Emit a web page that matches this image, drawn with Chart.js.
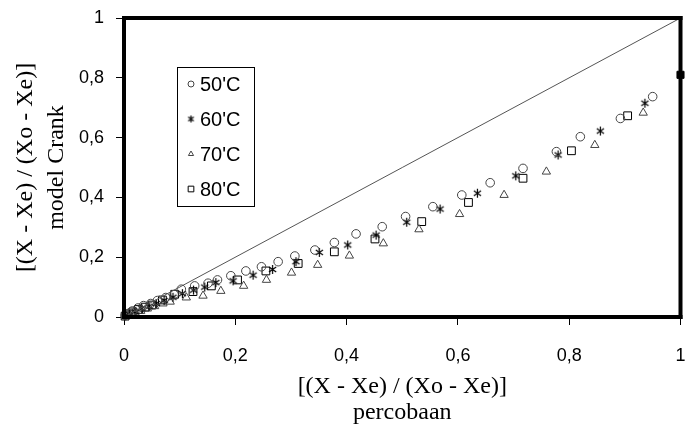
<!DOCTYPE html>
<html>
<head>
<meta charset="utf-8">
<script src="https://cdn.jsdelivr.net/npm/chart.js@4"></script>
<style>
  html, body { margin: 0; padding: 0; background: #fff; }
  #chart { display: block; }
</style>
</head>
<body>
<canvas id="chart" width="687" height="437"></canvas>
<script>
// data: x = percobaan, y = model Crank
const x50 = [0.002, 0.008, 0.015, 0.025, 0.035, 0.048, 0.06, 0.075, 0.09, 0.103, 0.127, 0.151, 0.168, 0.192, 0.219, 0.247, 0.277, 0.307, 0.343, 0.378, 0.417, 0.464, 0.506, 0.555, 0.607, 0.658, 0.717, 0.777, 0.820, 0.892, 0.950];
const y50 = [0.005, 0.012, 0.02, 0.03, 0.038, 0.045, 0.055, 0.065, 0.075, 0.093, 0.104, 0.113, 0.124, 0.138, 0.154, 0.168, 0.185, 0.204, 0.224, 0.249, 0.278, 0.302, 0.336, 0.369, 0.408, 0.449, 0.497, 0.553, 0.603, 0.664, 0.737];

const x60 = [0.003, 0.01, 0.02, 0.032, 0.045, 0.058, 0.072, 0.088, 0.105, 0.125, 0.145, 0.165, 0.196, 0.232, 0.267, 0.309, 0.351, 0.402, 0.453, 0.508, 0.568, 0.635, 0.704, 0.780, 0.856, 0.936];
const y60 = [0.004, 0.01, 0.018, 0.028, 0.036, 0.045, 0.055, 0.066, 0.078, 0.09, 0.1, 0.115, 0.121, 0.140, 0.159, 0.185, 0.216, 0.241, 0.274, 0.317, 0.361, 0.414, 0.472, 0.542, 0.622, 0.715];

const x70 = [0.003, 0.01, 0.02, 0.03, 0.042, 0.055, 0.07, 0.083, 0.112, 0.142, 0.174, 0.215, 0.256, 0.301, 0.348, 0.405, 0.466, 0.530, 0.603, 0.683, 0.759, 0.846, 0.933];
const y70 = [0.003, 0.008, 0.014, 0.02, 0.028, 0.036, 0.045, 0.051, 0.065, 0.071, 0.087, 0.104, 0.124, 0.148, 0.174, 0.205, 0.246, 0.293, 0.344, 0.408, 0.486, 0.575, 0.683];

const x80 = [0.002, 0.008, 0.016, 0.026, 0.038, 0.05, 0.069, 0.091, 0.124, 0.157, 0.204, 0.255, 0.313, 0.378, 0.451, 0.535, 0.619, 0.717, 0.804, 0.905];
const y80 = [0.003, 0.01, 0.017, 0.025, 0.033, 0.04, 0.057, 0.076, 0.085, 0.104, 0.124, 0.154, 0.179, 0.218, 0.261, 0.319, 0.383, 0.464, 0.556, 0.673];

// small filled mark sitting on the right frame
const edgeX = [1.0];
const edgeY = [0.81];

const lineX = [0, 1];
const lineY = [0, 1];

const seriesLabels = ["50'C", "60'C", "70'C", "80'C"];
const tickValues = [0, 0.2, 0.4, 0.6, 0.8, 1];

function pts(xs, ys) {
    return xs.map((x, i) => ({ x: x, y: ys[i] }));
}

// asterisk marker (vertical bar + two diagonals)
function makeStar(size) {
    const c = document.createElement('canvas');
    c.width = size; c.height = size;
    const g = c.getContext('2d');
    const m = size / 2, r = size / 2 - 1;
    g.strokeStyle = '#000';
    g.lineWidth = 1.2;
    g.beginPath();
    g.moveTo(m, m - r); g.lineTo(m, m + r);
    g.moveTo(m - r * 0.8, m - r * 0.55); g.lineTo(m + r * 0.8, m + r * 0.55);
    g.moveTo(m - r * 0.8, m + r * 0.55); g.lineTo(m + r * 0.8, m - r * 0.55);
    g.stroke();
    return c;
}
const starImg = makeStar(11);
const starSmall = makeStar(9);

function fmt(v) {
    if (Math.abs(v - Math.round(v)) < 1e-9) return String(Math.round(v));
    return v.toFixed(1).replace('.', ',');
}

// thick frame round the plot area, drawn as filled bars
const framePlugin = {
    id: 'frame',
    afterDraw(chart) {
        const a = chart.chartArea;
        const c = chart.ctx;
        const w = 4, h = w / 2;
        c.save();
        c.fillStyle = '#000';
        c.fillRect(a.left - h, a.top - h, a.right - a.left + w, w);
        c.fillRect(a.left - h, a.bottom - h, a.right - a.left + w, w);
        c.fillRect(a.left - h, a.top - h, w, a.bottom - a.top + w);
        c.fillRect(a.right - h, a.top - h, w, a.bottom - a.top + w);
        c.restore();
    }
};

// boxed legend inside the plot
const legendPlugin = {
    id: 'boxLegend',
    afterDraw(chart) {
        const c = chart.ctx;
        c.save();
        c.strokeStyle = '#000';
        c.lineWidth = 1;
        c.strokeRect(177.5, 67.5, 77, 139);
        c.font = '20px "Liberation Sans", Arial, sans-serif';
        c.textBaseline = 'middle';
        seriesLabels.forEach((lbl, i) => {
            const ds = chart.data.datasets[i + 1];
            const y = 84 + i * 35;
            const style = ds.pointStyle === starImg ? starSmall : ds.pointStyle;
            c.strokeStyle = ds.borderColor;
            c.fillStyle = 'rgba(0,0,0,0)';
            Chart.helpers.drawPoint(c, {
                pointStyle: style,
                radius: ds.pointStyle === 'rect' ? 4 : 3,
                borderWidth: 1
            }, 191, y);
            c.fillStyle = '#000';
            c.fillText(lbl, 200, y + 1);
        });
        c.restore();
    }
};

new Chart(document.getElementById('chart').getContext('2d'), {
    type: 'scatter',
    data: {
        datasets: [
            {
                type: 'line', data: pts(lineX, lineY),
                borderColor: '#555', borderWidth: 1, pointRadius: 0, fill: false
            },
            {
                label: seriesLabels[0], data: pts(x50, y50), pointStyle: 'circle',
                pointRadius: 4.3, borderColor: '#444', backgroundColor: 'rgba(0,0,0,0)', borderWidth: 1, clip: false
            },
            {
                label: seriesLabels[1], data: pts(x60, y60), pointStyle: starImg,
                pointRadius: 5, borderColor: '#000', backgroundColor: 'rgba(0,0,0,0)', borderWidth: 1, clip: false
            },
            {
                label: seriesLabels[2], data: pts(x70, y70), pointStyle: 'triangle',
                pointRadius: 4.8, borderColor: '#444', backgroundColor: 'rgba(0,0,0,0)', borderWidth: 1, clip: false
            },
            {
                label: seriesLabels[3], data: pts(x80, y80), pointStyle: 'rect',
                pointRadius: 5.5, borderColor: '#000', backgroundColor: 'rgba(0,0,0,0)', borderWidth: 1, clip: false
            },
            {
                data: pts(edgeX, edgeY), pointStyle: 'rect',
                pointRadius: 5, borderColor: '#000', backgroundColor: '#000', borderWidth: 1, clip: false
            }
        ]
    },
    options: {
        responsive: false,
        animation: false,
        devicePixelRatio: 1,
        layout: { padding: { left: 0, right: 3, top: 18, bottom: 0 } },
        plugins: { legend: { display: false }, tooltip: { enabled: false } },
        scales: {
            x: {
                type: 'linear', min: 0, max: 1,
                afterBuildTicks: s => { s.ticks = tickValues.map(v => ({ value: v })); },
                afterFit: s => { s.height = 120; s.paddingLeft = 0; s.paddingRight = 0; },
                border: { display: false },
                grid: { drawOnChartArea: false, drawTicks: true, tickLength: 8, tickColor: '#000', tickWidth: 1 },
                ticks: {
                    callback: fmt, padding: 20, color: '#000', maxRotation: 0,
                    font: { family: '"Liberation Sans", Arial, sans-serif', size: 18 }
                },
                title: {
                    display: true,
                    text: ['[(X - Xe) / (Xo - Xe)]', 'percobaan'],
                    color: '#000',
                    padding: { top: 0, bottom: 11 },
                    font: { family: '"Liberation Serif", "Times New Roman", serif', size: 24, lineHeight: 1.1 }
                }
            },
            y: {
                type: 'linear', min: 0, max: 1,
                afterBuildTicks: s => { s.ticks = tickValues.map(v => ({ value: v })); },
                afterFit: s => { s.width = 124; s.paddingTop = 0; s.paddingBottom = 0; },
                border: { display: false },
                grid: { drawOnChartArea: false, drawTicks: true, tickLength: 8, tickColor: '#000', tickWidth: 1 },
                ticks: {
                    callback: fmt, padding: 12, color: '#000',
                    font: { family: '"Liberation Sans", Arial, sans-serif', size: 18 }
                },
                title: {
                    display: true,
                    text: ['[(X - Xe) / (Xo - Xe)]', 'model Crank'],
                    color: '#000',
                    padding: { top: 10, bottom: 0 },
                    font: { family: '"Liberation Serif", "Times New Roman", serif', size: 24, lineHeight: 1.3 }
                }
            }
        }
    },
    plugins: [framePlugin, legendPlugin]
});
</script>
</body>
</html>
